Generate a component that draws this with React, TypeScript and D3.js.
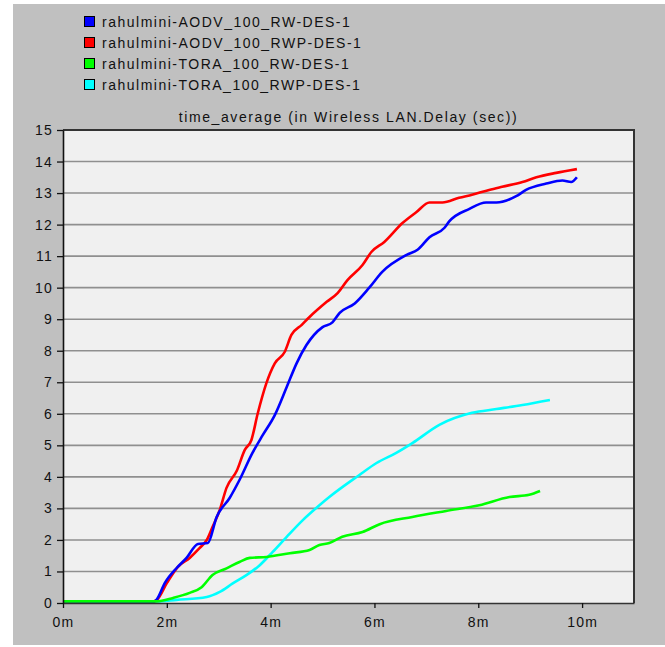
import React, { useEffect, useRef } from "react";
import * as d3 from "d3";

// series names (legend order)
const seriesNames = [
  "rahulmini-AODV_100_RW-DES-1",
  "rahulmini-AODV_100_RWP-DES-1",
  "rahulmini-TORA_100_RW-DES-1",
  "rahulmini-TORA_100_RWP-DES-1",
];
const seriesColors = ["#0000ff", "#ff0000", "#00ff00", "#00ffff"];

// time in minutes, delay in seconds
const aodvRwTime = [0, 1.72, 1.8, 1.96, 2.19, 2.38, 2.6, 2.79, 2.96, 3.21, 3.4, 3.65, 3.85, 4.08, 4.31, 4.5, 4.69, 5.0, 5.19, 5.33, 5.62, 5.9, 6.15, 6.62, 6.83, 7.06, 7.35, 7.44, 7.83, 8.15, 8.35, 8.73, 8.92, 9.31, 9.62, 9.79, 9.9];
const aodvRwDelay = [0.05, 0.03, 0.1, 0.63, 1.11, 1.43, 1.87, 1.9, 2.73, 3.33, 3.9, 4.76, 5.33, 5.96, 6.85, 7.6, 8.18, 8.75, 8.9, 9.2, 9.5, 10.0, 10.5, 11.04, 11.2, 11.6, 11.9, 12.1, 12.5, 12.7, 12.7, 12.9, 13.1, 13.3, 13.4, 13.35, 13.5];

const aodvRwpTime = [0, 1.75, 1.81, 2.0, 2.21, 2.44, 2.63, 2.77, 2.88, 3.02, 3.15, 3.35, 3.5, 3.63, 3.75, 3.92, 4.08, 4.27, 4.4, 4.6, 4.75, 5.08, 5.29, 5.48, 5.77, 5.94, 6.19, 6.54, 6.81, 7.06, 7.31, 7.63, 7.88, 8.21, 8.46, 8.85, 9.12, 9.5, 9.9];
const aodvRwpDelay = [0.05, 0.05, 0.1, 0.63, 1.14, 1.43, 1.74, 2.0, 2.41, 2.95, 3.65, 4.2, 4.85, 5.17, 6.0, 6.98, 7.6, 7.96, 8.5, 8.82, 9.07, 9.55, 9.83, 10.24, 10.72, 11.13, 11.45, 12.05, 12.4, 12.7, 12.7, 12.85, 12.95, 13.1, 13.2, 13.35, 13.5, 13.64, 13.76];

const toraRwTime = [0, 1.8, 2.12, 2.44, 2.67, 2.88, 3.15, 3.4, 3.6, 3.92, 4.37, 4.75, 4.94, 5.13, 5.38, 5.77, 6.1, 6.73, 7.38, 8.02, 8.6, 8.98, 9.19];
const toraRwDelay = [0.05, 0.05, 0.16, 0.32, 0.5, 0.89, 1.1, 1.3, 1.43, 1.46, 1.58, 1.68, 1.84, 1.9, 2.1, 2.25, 2.5, 2.73, 2.92, 3.1, 3.36, 3.43, 3.55];

const toraRwpTime = [0, 1.8, 2.19, 2.77, 3.02, 3.27, 3.54, 3.79, 4.04, 4.31, 4.62, 4.94, 5.13, 5.71, 6.04, 6.42, 6.73, 7.25, 7.88, 8.35, 8.85, 9.38];
const toraRwpDelay = [0.05, 0.05, 0.1, 0.19, 0.35, 0.62, 0.89, 1.2, 1.62, 2.1, 2.63, 3.1, 3.36, 4.06, 4.44, 4.76, 5.07, 5.65, 6.03, 6.15, 6.28, 6.44];

const xTicks = [0, 2, 4, 6, 8, 10];
const yTicks = d3.range(0, 16);
const title = "time_average (in Wireless LAN.Delay (sec))";

const FONT = "'Liberation Sans', Arial, sans-serif";

const App = () => {
  const ref = useRef<SVGSVGElement>(null);

  useEffect(() => {
    const width = 665;
    const height = 647;
    const left = 63, right = 634, top = 130, bottom = 603;

    const svg = d3.select(ref.current).attr("width", width).attr("height", height);
    svg.selectAll("*").remove();

    const x = d3.scaleLinear().domain([0, 11]).range([left, right]);
    const y = d3.scaleLinear().domain([0, 15]).range([bottom, top]);

    svg.append("rect").attr("x", 13).attr("y", 4).attr("width", width - 13).attr("height", 641).attr("fill", "#c0c0c0");
    svg.append("rect").attr("x", left).attr("y", top).attr("width", right - left).attr("height", bottom - top).attr("fill", "#f0f0f0");

    // gridlines
    svg.append("g")
      .selectAll("line")
      .data(yTicks.filter((d) => d > 0 && d < 15))
      .join("line")
      .attr("x1", left)
      .attr("x2", right)
      .attr("y1", (d) => y(d))
      .attr("y2", (d) => y(d))
      .attr("stroke", "#8f8f8f")
      .attr("stroke-width", 1.6);

    // lines
    const line = d3
      .line<[number, number]>()
      .x((d) => x(d[0]))
      .y((d) => y(d[1]))
      .curve(d3.curveMonotoneX);
    const series = [
      { t: toraRwpTime, v: toraRwpDelay, color: seriesColors[3] },
      { t: aodvRwpTime, v: aodvRwpDelay, color: seriesColors[1] },
      { t: aodvRwTime, v: aodvRwDelay, color: seriesColors[0] },
      { t: toraRwTime, v: toraRwDelay, color: seriesColors[2] },
    ];
    series.forEach((s) => {
      const pts = s.t.map((t, i) => [t, s.v[i]] as [number, number]);
      svg.append("path")
        .attr("d", line(pts))
        .attr("fill", "none")
        .attr("stroke", s.color)
        .attr("stroke-width", 2.6)
        .attr("stroke-linejoin", "round");
    });

    // frame
    svg.append("line").attr("x1", left).attr("x2", right + 1).attr("y1", top).attr("y2", top).attr("stroke", "#333").attr("stroke-width", 2);
    svg.append("line").attr("x1", right).attr("x2", right).attr("y1", top).attr("y2", bottom).attr("stroke", "#333").attr("stroke-width", 2);

    // axes
    const yAxis = svg.append("g")
      .attr("transform", `translate(${left},0)`)
      .call(d3.axisLeft(y).tickValues(yTicks).tickSize(6).tickPadding(4).tickSizeOuter(0));
    const xAxis = svg.append("g")
      .attr("transform", `translate(0,${bottom})`)
      .call(d3.axisBottom(x).tickValues(xTicks).tickFormat((d) => `${d}m`).tickSize(5).tickPadding(9).tickSizeOuter(0));

    [yAxis, xAxis].forEach((a) => {
      a.select(".domain").attr("stroke", "#111").attr("stroke-width", 1.6);
      a.selectAll(".tick line").attr("stroke", "#111").attr("stroke-width", 1.3);
      a.selectAll("text")
        .attr("fill", "#111")
        .style("font-family", FONT)
        .style("font-size", "14px")
        .style("letter-spacing", "1.2px");
    });
    xAxis.select(".domain").attr("stroke", "#333");

    // title
    svg.append("text")
      .attr("x", (left + right) / 2)
      .attr("y", 122)
      .attr("text-anchor", "middle")
      .attr("fill", "#111")
      .style("font-family", FONT)
      .style("font-size", "14px")
      .style("letter-spacing", "1.6px")
      .text(title);

    // legend
    const legend = svg.append("g")
      .selectAll("g")
      .data(seriesNames)
      .join("g")
      .attr("transform", (_, i) => `translate(84,${16 + i * 21})`);
    legend.append("rect")
      .attr("x", 0.5)
      .attr("y", 0.5)
      .attr("width", 10)
      .attr("height", 10)
      .attr("fill", (_, i) => seriesColors[i])
      .attr("stroke", "#000");
    legend.append("text")
      .attr("x", 18)
      .attr("y", 10.5)
      .attr("fill", "#111")
      .style("font-family", FONT)
      .style("font-size", "14px")
      .style("letter-spacing", "1.5px")
      .text((d) => d);

    return () => {
      svg.selectAll("*").remove();
    };
  }, []);

  return (
    <svg
      ref={ref}
      style={{ position: "absolute", left: 0, top: 0, display: "block" }}
    ></svg>
  );
};

export default App;
